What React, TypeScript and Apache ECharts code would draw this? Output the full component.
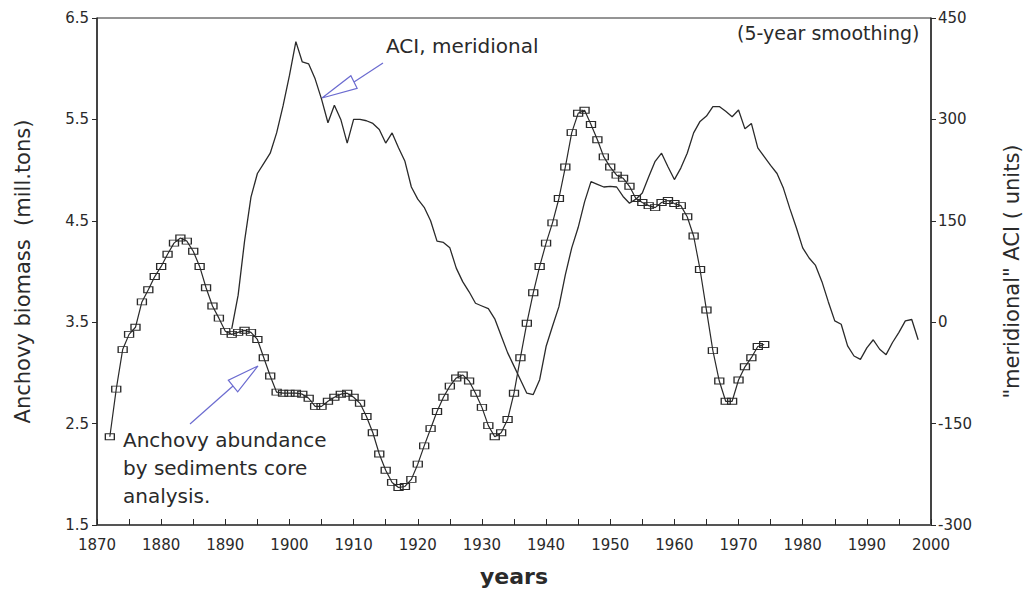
import React, { useEffect, useRef } from "react";
import * as echarts from "echarts";

// Anchovy biomass reconstructed from sediment cores (mill. tons), one value per year from 1872
const anchovyStartYear = 1872;
const anchovyBiomass = [
  2.37, 2.84, 3.23, 3.38, 3.45, 3.7, 3.82, 3.95, 4.05, 4.17,
  4.28, 4.33, 4.3, 4.2, 4.05, 3.84, 3.66, 3.54, 3.41, 3.38,
  3.4, 3.42, 3.4, 3.33, 3.15, 2.97, 2.81, 2.8, 2.8, 2.8,
  2.79, 2.75, 2.67, 2.67, 2.72, 2.76, 2.79, 2.8, 2.76, 2.7,
  2.57, 2.41, 2.2, 2.04, 1.92, 1.87, 1.88, 1.95, 2.1, 2.28,
  2.45, 2.62, 2.76, 2.87, 2.95, 2.98, 2.92, 2.8, 2.66, 2.48,
  2.37, 2.41, 2.54, 2.8, 3.15, 3.49, 3.79, 4.05, 4.28, 4.48,
  4.72, 5.03, 5.37, 5.56, 5.59, 5.45, 5.3, 5.13, 5.03, 4.95,
  4.92, 4.84, 4.72, 4.68, 4.65, 4.63, 4.68, 4.7, 4.67, 4.65,
  4.54, 4.35, 4.02, 3.62, 3.22, 2.92, 2.72, 2.72, 2.93, 3.06,
  3.15, 3.26, 3.28,
];

// Meridional atmospheric circulation index, 5-year smoothing, one value per year from 1891
const aciStartYear = 1891;
const aciMeridional = [
  -10, 40, 120, 185, 220, 235, 250, 280, 320, 365,
  415, 385, 382, 360, 330, 295, 321, 300, 265, 300,
  300, 298, 294, 285, 265, 280, 258, 238, 200, 182,
  170, 150, 120, 118, 110, 80, 60, 45, 28, 24,
  20, 5, -20, -45, -65, -85, -105, -107, -85, -36,
  -6, 23, 70, 110, 140, 178, 208, 204, 200, 201,
  200, 186, 176, 182, 191, 215, 238, 250, 230, 211,
  228, 250, 280, 297, 305, 319, 319, 312, 304, 314,
  286, 294, 258, 245, 232, 220, 198, 168, 140, 110,
  95, 84, 60, 30, 2, -3, -35, -50, -55, -38,
  -26, -40, -48, -30, -15, 2, 4, -26,
];

const leftTicks = [1.5, 2.5, 3.5, 4.5, 5.5, 6.5];

const INK = "#2a2a2a";
const ARROW = "#6b6bd0";
const FONT = "DejaVu Sans";

export default function App() {
  const ref = useRef<HTMLDivElement>(null);

  useEffect(() => {
    if (!ref.current) return;
    const chart = echarts.init(ref.current, null, { renderer: "svg" });

    const anchovyData = anchovyBiomass.map((v, i) => [anchovyStartYear + i, v]);
    const aciData = aciMeridional.map((v, i) => [aciStartYear + i, v]);

    const arrow = (tail: number[], base: number[], tip: number[], halfWidth: number) => {
      const dx = tip[0] - base[0];
      const dy = tip[1] - base[1];
      const len = Math.hypot(dx, dy);
      const nx = (-dy / len) * halfWidth;
      const ny = (dx / len) * halfWidth;
      return [
        {
          type: "line",
          shape: { x1: tail[0], y1: tail[1], x2: base[0], y2: base[1] },
          style: { stroke: ARROW, lineWidth: 1.2 },
          silent: true,
        },
        {
          type: "polygon",
          shape: {
            points: [
              tip,
              [base[0] + nx, base[1] + ny],
              [base[0] - nx, base[1] - ny],
            ],
          },
          style: { stroke: ARROW, fill: "rgba(255,255,255,0)", lineWidth: 1.2 },
          silent: true,
        },
      ];
    };

    chart.setOption({
      animation: false,
      backgroundColor: "#ffffff",
      textStyle: { fontFamily: FONT, color: INK },
      grid: {
        left: 97,
        right: 103,
        top: 18,
        bottom: 71,
        show: true,
        borderColor: INK,
        borderWidth: 1,
        containLabel: false,
      },
      xAxis: {
        type: "value",
        min: 1870,
        max: 2000,
        interval: 5,
        name: "years",
        nameLocation: "middle",
        nameGap: 40,
        nameTextStyle: { fontFamily: FONT, fontSize: 22, fontWeight: "bold", color: INK },
        axisLine: { show: true, onZero: false, lineStyle: { color: "#555", width: 2 } },
        axisTick: { show: true, inside: true, length: 6, lineStyle: { color: INK } },
        axisLabel: {
          fontFamily: FONT,
          fontSize: 15,
          color: INK,
          margin: 12,
          formatter: (v: number) => (v % 10 === 0 ? String(v) : ""),
        },
        splitLine: { show: false },
      },
      yAxis: [
        {
          type: "value",
          min: 1.5,
          max: 6.5,
          position: "left",
          name: "Anchovy biomass  (mill.tons)",
          nameLocation: "middle",
          nameGap: 64,
          nameRotate: 90,
          nameTextStyle: { fontFamily: FONT, fontSize: 21, color: INK },
          axisLine: { show: true, onZero: false, lineStyle: { color: INK, width: 1.5 } },
          axisTick: {
            show: true,
            inside: false,
            length: 5,
            customValues: leftTicks,
            lineStyle: { color: INK },
          },
          axisLabel: {
            fontFamily: FONT,
            fontSize: 15,
            color: INK,
            margin: 8,
            customValues: leftTicks,
            formatter: (v: number) => v.toFixed(1),
          },
          splitLine: { show: false },
        },
        {
          type: "value",
          min: -300,
          max: 450,
          interval: 150,
          position: "right",
          name: "\"meridional\" ACI ( units)",
          nameLocation: "middle",
          nameGap: 70,
          nameRotate: 90,
          nameTextStyle: { fontFamily: FONT, fontSize: 21, color: INK },
          axisLine: { show: true, onZero: false, lineStyle: { color: INK, width: 1.5 } },
          axisTick: { show: true, inside: false, length: 5, lineStyle: { color: INK } },
          axisLabel: { fontFamily: FONT, fontSize: 15, color: INK, margin: 7 },
          splitLine: { show: false },
        },
      ],
      series: [
        {
          name: "ACI, meridional",
          type: "line",
          yAxisIndex: 1,
          data: aciData,
          showSymbol: false,
          symbol: "none",
          lineStyle: { color: INK, width: 1.3 },
          z: 2,
        },
        {
          name: "Anchovy abundance",
          type: "line",
          yAxisIndex: 0,
          data: anchovyData,
          symbol: "rect",
          symbolSize: [9, 6],
          showAllSymbol: true,
          lineStyle: { color: INK, width: 1.2 },
          itemStyle: { color: "rgba(255,255,255,0)", borderColor: INK, borderWidth: 1.1 },
          z: 3,
        },
      ],
      graphic: [
        {
          type: "text",
          left: 386,
          top: 36,
          style: { text: "ACI, meridional", fontFamily: FONT, fontSize: 20, fill: INK },
          silent: true,
        },
        {
          type: "text",
          left: 737,
          top: 23,
          style: { text: "(5-year smoothing)", fontFamily: FONT, fontSize: 19, fill: INK },
          silent: true,
        },
        {
          type: "text",
          left: 123,
          top: 426,
          style: {
            text: "Anchovy abundance\nby sediments core\nanalysis.",
            fontFamily: FONT,
            fontSize: 20,
            lineHeight: 28,
            fill: INK,
          },
          silent: true,
        },
        ...arrow([383, 63], [354, 82], [322, 98], 7),
        ...arrow([190, 424], [233, 386], [258, 366], 7.5),
      ],
    });

    return () => chart.dispose();
  }, []);

  return (
    <div
      ref={ref}
      style={{ position: "absolute", left: 0, top: 0, width: 1034, height: 596 }}
    />
  );
}
